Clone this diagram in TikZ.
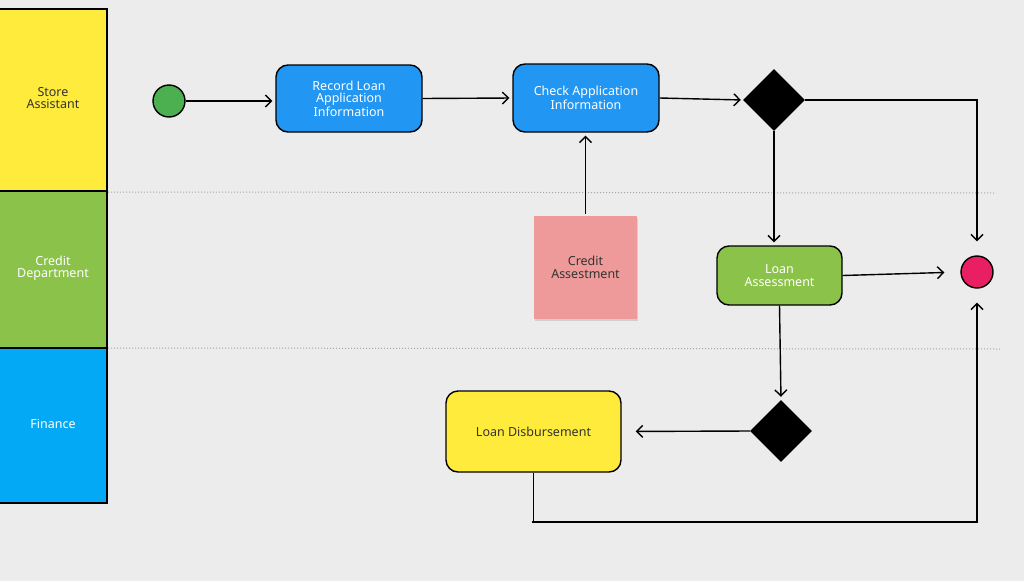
\documentclass[tikz,border=0pt]{standalone}
\usepackage{fontspec}
\setmainfont{Noto Sans}
\usetikzlibrary{arrows.meta,shapes.geometric,shadows}
\definecolor{bg}{HTML}{ECECEC}
\definecolor{laneyellow}{HTML}{FFEB3B}
\definecolor{lanegreen}{HTML}{8BC34A}
\definecolor{laneblue}{HTML}{03A9F4}
\definecolor{actblue}{HTML}{2196F3}
\definecolor{startgreen}{HTML}{4CAF50}
\definecolor{endpink}{HTML}{E91E63}
\definecolor{sticky}{HTML}{EE9A9A}
\definecolor{darktext}{HTML}{333333}
\tikzset{
  txt/.style={font=\fontsize{12.5}{12.5}\selectfont, align=center},
  lane/.style={draw=black, line width=1.5pt, anchor=north west, inner sep=0pt},
  act/.style={txt, draw=black, line width=1.4pt, rounded corners=12pt, inner sep=0pt},
  dot/.style={circle, draw=black, line width=1.4pt, inner sep=0pt, minimum size=32pt},
  dec/.style={diamond, fill=black, inner sep=0pt, minimum width=62pt, minimum height=62pt},
  flow/.style={line width=1.4pt, -{Straight Barb[length=6pt,width=12pt,line width=1.4pt]}},
  sep/.style={draw=gray!70, dotted, line width=1pt},
}
\begin{document}
\begin{tikzpicture}[x=1pt,y=-1pt]
\fill[bg] (0,0) rectangle (1024,581);
\useasboundingbox (0,0) rectangle (1024,581);
% lanes
\node[lane, fill=laneyellow, minimum width=108pt, minimum height=182pt] (l1) at (-2,8) {};
\node[txt, text=darktext] (l1t) at (53,98) {Store\\Assistant};
\node[lane, fill=lanegreen, minimum width=108pt, minimum height=157pt] (l2) at (-2,190) {};
\node[txt, text=white] (l2t) at (53,268) {Credit\\Department};
\node[lane, fill=laneblue, minimum width=108pt, minimum height=155pt] (l3) at (-2,347) {};
\node[txt, text=white] (l3t) at (53,424) {Finance};
\coordinate (s1a) at (108,192); \coordinate (s1b) at (996,193);
\coordinate (s2a) at (108,348); \coordinate (s2b) at (1000,349);
\draw[sep] (s1a) -- (s1b);
\draw[sep] (s2a) -- (s2b);
% nodes
\node[dot, fill=startgreen] (start) at (169,101) {};
\node[act, fill=actblue, text=white, minimum width=146pt, minimum height=67pt] (rec) at (349,98.5) {Record Loan\\Application\\Information};
\node[act, fill=actblue, text=white, minimum width=146pt, minimum height=68pt] (chk) at (586,98) {Check Application\\Information};
\node[dec] (d1) at (774,100) {};
\node[txt, fill=sticky, text=darktext, minimum width=103pt, minimum height=103pt, inner sep=0pt, drop shadow={shadow xshift=1pt, shadow yshift=-2pt, opacity=0.25}] (cred) at (585.5,267.5) {Credit\\Assestment};
\node[act, fill=lanegreen, text=white, minimum width=125pt, minimum height=59pt] (la) at (779.5,275.5) {Loan\\Assessment};
\node[dot, fill=endpink] (end) at (977,272) {};
\node[dec] (d2) at (781,431) {};
\node[act, fill=laneyellow, text=darktext, minimum width=175pt, minimum height=81pt] (ld) at (533.5,431.5) {Loan Disbursement};
% connectors
\draw[flow, shorten >=3pt] (start.east) -- (rec.west |- start.east);
\draw[flow, shorten >=3pt] (rec.east) -- (chk.west);
\draw[flow, shorten >=2pt] (chk.east) -- (d1.west);
\draw[flow, shorten >=14pt] (d1.east) -| (end.north);
\draw[flow, shorten >=3pt] (d1.south) -- (la.north -| d1.south);
\draw[flow, shorten >=3pt, shorten <=2pt] (cred.north) -- (chk.south -| cred.north);
\draw[flow, shorten >=16pt] (la.east) -- (end.west);
\draw[flow, shorten >=3pt] (la.south) -- (d2.north);
\draw[flow, shorten >=14pt] (d2.west) -- (ld.east);
\coordinate (c1) at (532,522);
\draw[flow, shorten >=14pt] (ld.south) |- (c1) -| (end.south);
\end{tikzpicture}
\end{document}
